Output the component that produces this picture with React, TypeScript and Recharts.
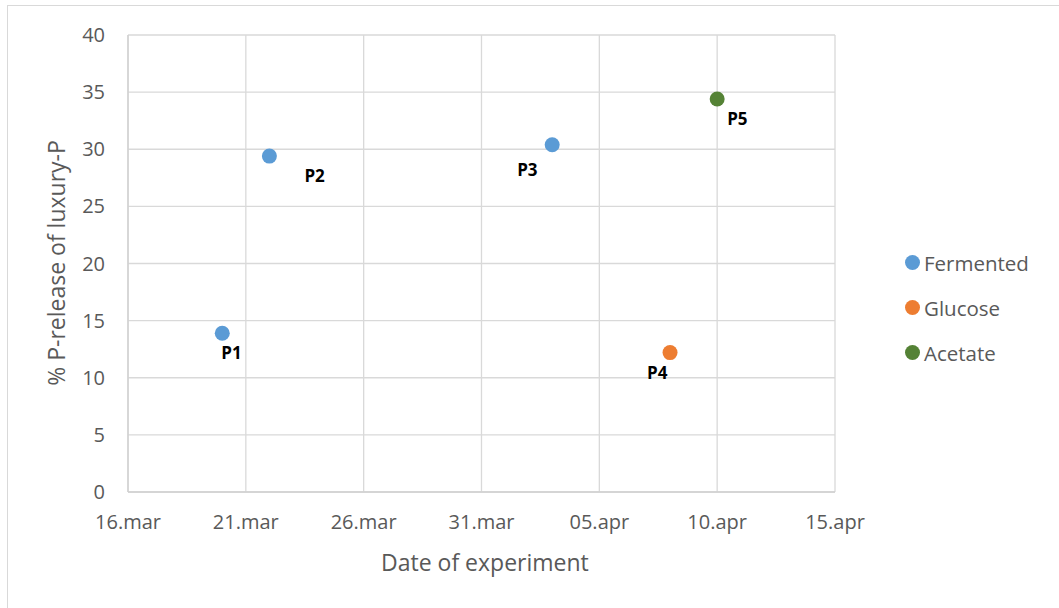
import React from 'react'
import { ScatterChart, Scatter, XAxis, YAxis, CartesianGrid } from 'recharts'

// values
const fermentedDates = ['20.mar', '22.mar', '03.apr']
const fermentedValues = [13.9, 29.4, 30.4]
const fermentedLabels = ['P1', 'P2', 'P3']

const glucoseDates = ['08.apr']
const glucoseValues = [12.2]
const glucoseLabels = ['P4']

const acetateDates = ['10.apr']
const acetateValues = [34.4]
const acetateLabels = ['P5']

const xTickLabels = ['16.mar', '21.mar', '26.mar', '31.mar', '05.apr', '10.apr', '15.apr']
const yTicks = [0, 5, 10, 15, 20, 25, 30, 35, 40]

const COLORS = { Fermented: '#5b9bd5', Glucose: '#ed7d31', Acetate: '#548235' }
const FONT = '"Open Sans", sans-serif'

// where each point label sits relative to its marker
const labelOffsets: Record<string, [number, number]> = {
  P1: [-1, 19],
  P2: [35, 19],
  P3: [-35, 25],
  P4: [-23, 20],
  P5: [10, 20],
}

const months: Record<string, number> = { mar: 2, apr: 3 }
const toDay = (s: string) => {
  const [d, m] = s.split('.')
  return Date.UTC(2019, months[m], Number(d)) / 86400000
}
const fmtDay = (v: number) => {
  const dt = new Date(v * 86400000)
  const dd = String(dt.getUTCDate()).padStart(2, '0')
  const mm = dt.getUTCMonth() === 2 ? 'mar' : 'apr'
  return `${dd}.${mm}`
}

const build = (dates: string[], values: number[], labels: string[]) =>
  dates.map((d, i) => ({ x: toDay(d), y: values[i], label: labels[i] }))

const fermented = build(fermentedDates, fermentedValues, fermentedLabels)
const glucose = build(glucoseDates, glucoseValues, glucoseLabels)
const acetate = build(acetateDates, acetateValues, acetateLabels)
const xTicks = xTickLabels.map(toDay)

const dot = (color: string) => (p: any) => {
  const off = labelOffsets[p.payload.label] || [0, 0]
  return (
    <g>
      <circle cx={p.cx} cy={p.cy} r={7.5} fill={color} />
      <text
        x={p.cx + off[0]}
        y={p.cy + off[1]}
        dominantBaseline="central"
        textAnchor="start"
        fontFamily={FONT}
        fontWeight="bold"
        fontSize={17}
        fill="#000"
      >
        {p.payload.label}
      </text>
    </g>
  )
}

const LegendBox = () => (
  <div style={{ position: 'absolute', left: 905, top: 240, fontFamily: FONT, fontSize: 20.5, color: '#595959' }}>
    {(['Fermented', 'Glucose', 'Acetate'] as const).map((k) => (
      <div key={k} style={{ display: 'flex', alignItems: 'center', height: 45 }}>
        <span style={{ width: 15, height: 15, borderRadius: 8, background: COLORS[k], marginRight: 4 }} />
        <span>{k}</span>
      </div>
    ))}
  </div>
)

export default function App() {
  return (
    <div style={{ position: 'relative', width: 1059, height: 608, overflow: 'hidden', background: '#fff' }}>
      <style>{`body{margin:0}`}</style>
      <div style={{ position: 'absolute', left: 7, top: 5, width: 1070, height: 620, border: '1px solid #d9d9d9' }} />
      <ScatterChart width={1059} height={608} margin={{ top: 35, right: 224, bottom: 0, left: 0 }}>
        <CartesianGrid stroke="#d9d9d9" strokeWidth={1.3} />
        <XAxis
          type="number"
          dataKey="x"
          height={116}
          domain={[xTicks[0], xTicks[xTicks.length - 1]]}
          ticks={xTicks}
          tickFormatter={fmtDay}
          tickLine={false}
          axisLine={{ stroke: '#d0d0d0', strokeWidth: 1.3 }}
          tickSize={0}
          tickMargin={23}
          tick={{ fontFamily: FONT, fontSize: 20, fill: '#595959' }}
        />
        <YAxis
          type="number"
          dataKey="y"
          width={128}
          domain={[0, 40]}
          ticks={yTicks}
          tickLine={false}
          axisLine={{ stroke: '#d0d0d0', strokeWidth: 1.3 }}
          tickSize={0}
          tickMargin={23}
          tick={{ fontFamily: FONT, fontSize: 20, fill: '#595959' }}
        />
        <Scatter name="Fermented" data={fermented} fill={COLORS.Fermented} shape={dot(COLORS.Fermented)} isAnimationActive={false} />
        <Scatter name="Glucose" data={glucose} fill={COLORS.Glucose} shape={dot(COLORS.Glucose)} isAnimationActive={false} />
        <Scatter name="Acetate" data={acetate} fill={COLORS.Acetate} shape={dot(COLORS.Acetate)} isAnimationActive={false} />
      </ScatterChart>
      <div style={{ position: 'absolute', left: 381, top: 546, width: 200, textAlign: 'center', fontFamily: FONT, fontSize: 23, color: '#595959', whiteSpace: 'nowrap' }}>
        Date of experiment
      </div>
      <div
        style={{
          position: 'absolute', left: 56, top: 263, transform: 'translate(-50%, -50%) rotate(-90deg)',
          fontFamily: FONT, fontSize: 23, color: '#595959', whiteSpace: 'nowrap',
        }}
      >
        % P-release of luxury-P
      </div>
      <LegendBox />
    </div>
  )
}
